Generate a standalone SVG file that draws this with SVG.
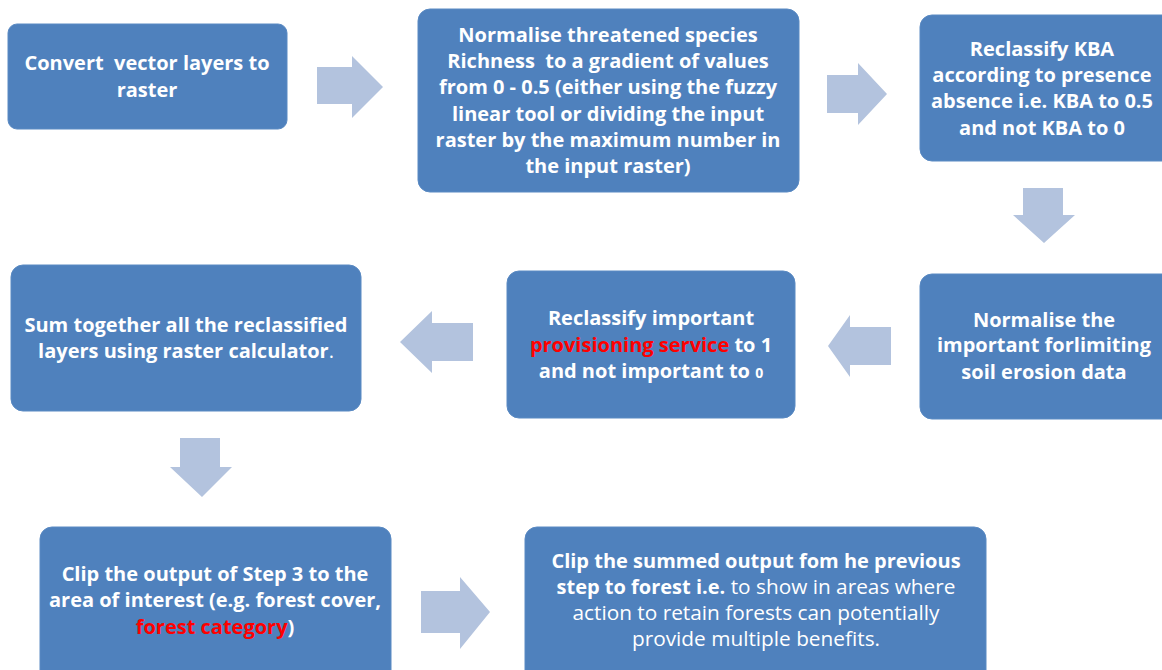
<svg xmlns="http://www.w3.org/2000/svg" width="1162" height="670" viewBox="0 0 1162 670">
<style>
.box{fill:#4f81bd;stroke:#5a8ac3;stroke-width:1}
.arr{fill:#b3c3de}
text{font-family:"Open Sans","Noto Sans","Liberation Sans",sans-serif;font-size:20px;font-weight:bold;fill:#ffffff;text-anchor:middle}
.red{fill:#ff0000}
.reg{font-weight:normal}
.reg2{font-weight:normal;font-size:20.8px}
</style>
<rect width="1162" height="670" fill="#ffffff"/>
<g id="connectors">
<polygon class="arr" points="317,67 352,67 352,56 383,87 352,118 352,104 317,104"/>
<polygon class="arr" points="827,75 858,75 858,63 887,94 858,125 858,113 827,113"/>
<polygon class="arr" points="1023,188 1063,188 1063,215 1075,215 1044,243 1013,215 1023,215"/>
<polygon class="arr" points="891,327 850,327 850,315 828,346 850,377 850,365 891,365"/>
<polygon class="arr" points="473,323 432,323 432,311 400,342 432,373 432,361 473,361"/>
<polygon class="arr" points="180,438 220,438 220,467 232,467 202,497 170,467 180,467"/>
<polygon class="arr" points="421,591 460,591 460,577 490,612 460,649 460,633 421,633"/>
</g>
<g id="node1">
<rect class="box" x="8" y="24" width="279" height="105" rx="9"/>
<text x="147" y="70" xml:space="preserve">Convert  vector layers to</text>
<text x="147" y="97">raster</text>
</g>
<g id="node2">
<rect class="box" x="418" y="9" width="381" height="183" rx="12"/>
<text x="608" y="42">Normalise threatened species</text>
<text x="608" y="68" xml:space="preserve">Richness  to a gradient of values</text>
<text x="608" y="94">from 0 - 0.5 (either using the fuzzy</text>
<text x="608" y="121">linear tool or dividing the input</text>
<text x="608" y="147">raster by the maximum number in</text>
<text x="608" y="173">the input raster)</text>
</g>
<g id="node3">
<rect class="box" x="920" y="15" width="256" height="146" rx="12"/>
<text x="1042" y="56">Reclassify KBA</text>
<text x="1042" y="82">according to presence</text>
<text x="1042" y="108">absence i.e. KBA to 0.5</text>
<text x="1042" y="135">and not KBA to 0</text>
</g>
<g id="node4">
<rect class="box" x="920" y="274" width="256" height="145" rx="12"/>
<text x="1044" y="327">Normalise the</text>
<text x="1044" y="352">important forlimiting</text>
<text x="1044" y="379">soil erosion data</text>
</g>
<g id="node5">
<rect class="box" x="507" y="271" width="288" height="147" rx="12"/>
<text x="651" y="325">Reclassify important</text>
<text x="651" y="352"><tspan class="red">provisioning service</tspan> to 1</text>
<text x="651" y="378">and not important to <tspan style="font-size:14px">0</tspan></text>
</g>
<g id="node6">
<rect class="box" x="11" y="265" width="350" height="146" rx="12"/>
<text x="186" y="332">Sum together all the reclassified</text>
<text x="186" y="358">layers using raster calculator<tspan class="reg">.</tspan></text>
</g>
<g id="node7">
<rect class="box" x="40" y="527" width="351" height="160" rx="12"/>
<text x="215" y="581">Clip the output of Step 3 to the</text>
<text x="215" y="607">area of interest (e.g. forest cover,</text>
<text x="215" y="634"><tspan class="red">forest category</tspan>)</text>
</g>
<g id="node8">
<rect class="box" x="525" y="527" width="461" height="160" rx="12"/>
<text x="756" y="568">Clip the summed output fom he previous</text>
<text x="756" y="594">step to forest i.e.<tspan class="reg2"> to show in areas where</tspan></text>
<text x="756" y="620" class="reg2">action to retain forests can potentially</text>
<text x="756" y="646" class="reg2">provide multiple benefits.</text>
</g>
</svg>
